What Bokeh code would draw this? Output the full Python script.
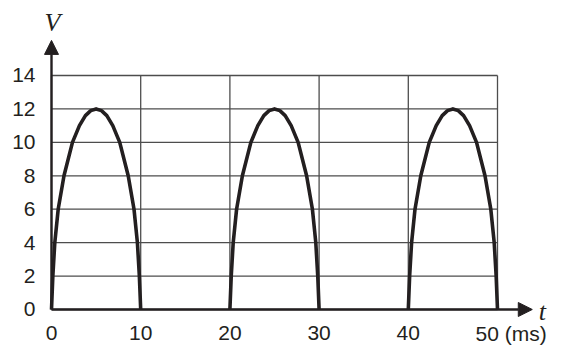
from bokeh.plotting import figure
from bokeh.models import Range1d, LinearAxis, FixedTicker, Arrow, NormalHead
from bokeh.core.properties import value
from bokeh.embed import file_html
from bokeh.resources import INLINE

# ---- data ----
x_ticks = [0, 10, 20, 30, 40, 50]
x_tick_labels = ["0", "10", "20", "30", "40", "50 (ms)"]
y_ticks = [0, 2, 4, 6, 8, 10, 12, 14]
pulse_starts = [0, 20, 40]
# one hump (time in ms from pulse start, voltage in V)
hump_t = [0, 0.15, 0.37, 0.75, 1.4, 2.35, 3.13, 3.8, 4.4, 5.0,
          5.6, 6.2, 6.87, 7.65, 8.6, 9.25, 9.63, 9.85, 10]
hump_v = [0, 2, 4, 6, 8, 10, 11, 11.6, 11.9, 12,
          11.9, 11.6, 11, 10, 8, 6, 4, 2, 0]
x_axis_end = 53.9
y_axis_end = 16.1

INK = "#231f20"
GRID = "#4d4d4d"

p = figure(width=562, height=345, output_backend="svg", toolbar_location=None,
           x_range=Range1d(-0.897, 57.175), y_range=Range1d(-2.154, 18.487),
           x_axis_type=None, y_axis_type=None,
           min_border_left=43, min_border_right=1, min_border_top=0, min_border_bottom=0)
p.outline_line_color = None
p.background_fill_color = "white"

yax = LinearAxis(ticker=FixedTicker(ticks=y_ticks), axis_line_color=None,
                 major_tick_line_color=None, minor_tick_line_color=None,
                 major_label_standoff=2, major_label_text_font="Liberation Sans",
                 major_label_text_font_size="21px", major_label_text_color=INK)
p.add_layout(yax, "left")

# grid (bounded table)
xmax, ymax = x_ticks[-1], y_ticks[-1]
p.segment(x0=x_ticks, y0=[0] * len(x_ticks), x1=x_ticks, y1=[ymax] * len(x_ticks),
          line_color=GRID, line_width=1.3)
p.segment(x0=[0] * len(y_ticks), y0=y_ticks, x1=[xmax] * len(y_ticks), y1=y_ticks,
          line_color=GRID, line_width=1.3)

# rectified humps
xs = [[s + t for t in hump_t] for s in pulse_starts]
ys = [list(hump_v) for _ in pulse_starts]
p.multi_line(xs=xs, ys=ys, line_color=INK, line_width=3.6, line_join="round")

# axes with arrows
p.add_layout(Arrow(end=NormalHead(size=14, fill_color=INK, line_color=INK, line_width=1),
                   x_start=0, y_start=0, x_end=x_axis_end, y_end=0,
                   line_color=INK, line_width=2.4))
p.add_layout(Arrow(end=NormalHead(size=14, fill_color=INK, line_color=INK, line_width=1),
                   x_start=0, y_start=0, x_end=0, y_end=y_axis_end,
                   line_color=INK, line_width=2.4))

# x tick labels
p.text(x=x_ticks[:-1], y=[0] * (len(x_ticks) - 1), text=x_tick_labels[:-1],
       text_align="center", text_baseline="alphabetic", y_offset=24,
       text_font=value("Liberation Sans"), text_font_size="21px", text_color=INK)
p.text(x=[x_ticks[-1]], y=[0], text=[x_tick_labels[-1]],
       text_align="left", text_baseline="alphabetic", x_offset=-22, y_offset=24,
       text_font=value("Liberation Sans"), text_font_size="21px", text_color=INK)

# axis titles
p.text(x=[0], y=[y_axis_end], text=["V"], text_align="center", text_baseline="alphabetic",
       x_offset=1, y_offset=-18, text_font=value("Liberation Serif"), text_font_style="italic",
       text_font_size="26px", text_color=INK)
p.text(x=[x_axis_end], y=[0], text=["t"], text_align="center", text_baseline="alphabetic",
       x_offset=10, y_offset=2, text_font=value("Liberation Serif"), text_font_style="italic",
       text_font_size="26px", text_color=INK)

open("out.html", "w").write(file_html(p, INLINE))
